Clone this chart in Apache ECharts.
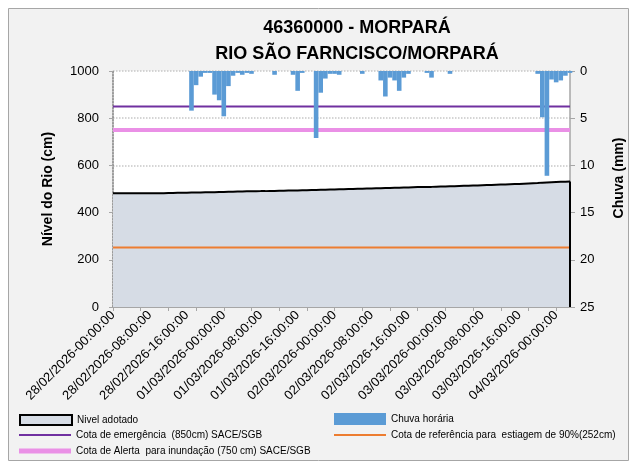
<!DOCTYPE html>
<html>
<head>
<meta charset="utf-8">
<script src="https://cdn.jsdelivr.net/npm/echarts@6/dist/echarts.min.js"></script>
<style>
  html, body { margin: 0; padding: 0; background: #fff; }
  #chart { width: 630px; height: 461px; }
</style>
</head>
<body>
<div id="chart"></div>
<script>
// dias e horas do eixo X (horário)
const days = ['28/02/2026', '01/03/2026', '02/03/2026', '03/03/2026', '04/03/2026']
const hours = ['00', '01', '02', '03', '04', '05', '06', '07', '08', '09', '10', '11',
  '12', '13', '14', '15', '16', '17', '18', '19', '20', '21', '22', '23']
const nPoints = 100

// nível adotado (cm)
const nivel = [
  482, 482, 482, 482, 482, 482, 482, 482, 482, 482, 482, 482,
  483, 483, 484, 484, 484, 485, 485, 485, 486, 486, 486, 487,
  487, 488, 488, 489, 489, 490, 490, 490, 491, 491, 492, 492,
  493, 493, 494, 494, 494, 495, 495, 496, 496, 497, 497, 498,
  498, 499, 499, 500, 500, 501, 501, 502, 502, 503, 503, 504,
  504, 505, 505, 506, 506, 507, 508, 508, 509, 509, 510, 511,
  511, 512, 512, 513, 514, 514, 515, 515, 516, 517, 517, 518,
  519, 519, 520, 521, 521, 522, 523, 524, 525, 527, 528, 529,
  530, 531, 531, 532
]

// chuva horária (mm)
const chuva = [
  0, 0, 0, 0, 0, 0, 0, 0, 0, 0,
  0, 0, 0, 0, 0, 0, 0, 4.2, 1.5, 0.6,
  0.2, 0.2, 2.5, 3.1, 4.8, 1.6, 0.5, 0.2, 0.4, 0.2,
  0.3, 0, 0, 0, 0, 0.4, 0, 0, 0, 0.4,
  2.1, 0.2, 0, 0, 7.1, 2.3, 0.8, 0.3, 0.3, 0.4,
  0, 0, 0, 0, 0.3, 0, 0, 0, 1.0, 2.7,
  0.7, 1.0, 2.1, 0.7, 0.3, 0, 0, 0, 0.2, 0.7,
  0, 0, 0, 0.3, 0, 0, 0, 0, 0, 0,
  0, 0, 0, 0, 0, 0, 0, 0, 0, 0,
  0, 0, 0.3, 4.9, 11.1, 0.9, 1.2, 1.0, 0.5, 0.2
]

// cotas de referência (cm)
const cotaEmergencia = 850
const cotaAlerta = 750
const cotaEstiagem = 252

const categories = []
days.forEach(d => hours.forEach(h => categories.push(d + '-' + h + ':00:00')))
categories.length = nPoints

const flat = v => categories.map(() => v)

const nameNivel = 'Nivel adotado'
const nameChuva = 'Chuva horária'
const nameEmerg = 'Cota de emergência  (850cm) SACE/SGB'
const nameEstiagem = 'Cota de referência para  estiagem de 90%(252cm)'
const nameAlerta = 'Cota de Alerta  para inundação (750 cm) SACE/SGB'

const font = "'Liberation Sans', Arial, sans-serif"
const legendBase = {
  orient: 'horizontal',
  selectedMode: false,
  itemWidth: 52,
  itemHeight: 10,
  itemGap: 5,
  padding: 0,
  textStyle: { fontFamily: font, fontSize: 10, color: '#000' }
}

const chart = echarts.init(document.getElementById('chart'))
chart.setOption({
  animation: false,
  backgroundColor: '#fff',
  graphic: [{
    type: 'rect',
    z: -10,
    shape: { x: 8.5, y: 8.5, width: 620, height: 452 },
    style: { fill: '#f2f2f2', stroke: '#a6a6a6', lineWidth: 1 }
  }],
  title: {
    text: '46360000 - MORPARÁ\nRIO SÃO FARNCISCO/MORPARÁ',
    left: 352,
    top: 10,
    textAlign: 'center',
    textStyle: {
      fontFamily: font,
      fontSize: 18,
      fontWeight: 'bold',
      color: '#000',
      lineHeight: 26
    }
  },
  grid: {
    left: 113,
    right: 60,
    top: 71,
    bottom: 154,
    outerBoundsMode: 'none',
    show: true,
    backgroundColor: '#fff',
    borderWidth: 0
  },
  legend: [
    Object.assign({}, legendBase, {
      left: 19, top: 414,
      data: [{ name: nameNivel, icon: 'rect', itemStyle: { color: '#d6dce5', borderColor: '#000', borderWidth: 2 } }]
    }),
    Object.assign({}, legendBase, {
      left: 334, top: 413, itemHeight: 12,
      data: [{ name: nameChuva, icon: 'rect' }]
    }),
    Object.assign({}, legendBase, {
      left: 19, top: 430, itemHeight: 2,
      data: [{ name: nameEmerg, icon: 'rect' }]
    }),
    Object.assign({}, legendBase, {
      left: 334, top: 430, itemHeight: 2,
      data: [{ name: nameEstiagem, icon: 'rect' }]
    }),
    Object.assign({}, legendBase, {
      left: 19, top: 446, itemHeight: 5,
      data: [{ name: nameAlerta, icon: 'rect' }]
    })
  ],
  xAxis: {
    type: 'category',
    data: categories,
    boundaryGap: false,
    axisLine: { lineStyle: { color: '#a6a6a6', width: 1 } },
    axisTick: { show: true, interval: 5, length: 4, lineStyle: { color: '#a6a6a6' } },
    axisLabel: {
      interval: 7,
      rotate: 45,
      fontFamily: font,
      fontSize: 13,
      color: '#000',
      margin: 6
    },
    splitLine: { show: false }
  },
  yAxis: [
    {
      type: 'value',
      min: 0,
      max: 1000,
      interval: 200,
      name: 'Nível do Rio (cm)',
      nameLocation: 'middle',
      nameGap: 58,
      nameTextStyle: { fontFamily: font, fontSize: 14, fontWeight: 'bold', color: '#000' },
      axisLine: { show: true, lineStyle: { color: '#7f7f7f', type: 'dotted', width: 1.5 } },
      axisTick: { show: true, length: 4, lineStyle: { color: '#a6a6a6' } },
      axisLabel: { fontFamily: font, fontSize: 13, color: '#000', margin: 14, formatter: v => String(v) },
      splitLine: { show: true, lineStyle: { color: '#c8c8c8', type: 'dotted', width: 1.5 } }
    },
    {
      type: 'value',
      min: 0,
      max: 25,
      interval: 5,
      inverse: true,
      position: 'right',
      name: 'Chuva (mm)',
      nameLocation: 'middle',
      nameGap: 42,
      nameRotate: 90,
      nameTextStyle: { fontFamily: font, fontSize: 14, fontWeight: 'bold', color: '#000', padding: [0, 0, 0, 22] },
      axisLine: { show: true, lineStyle: { color: '#a6a6a6', width: 1.5 } },
      axisTick: { show: true, length: 5, lineStyle: { color: '#a6a6a6' } },
      axisLabel: { fontFamily: font, fontSize: 13, color: '#000', margin: 10 },
      splitLine: { show: false }
    }
  ],
  series: [
    {
      name: nameNivel,
      type: 'line',
      data: nivel,
      yAxisIndex: 0,
      symbol: 'none',
      z: 1,
      lineStyle: { color: '#000', width: 2 },
      itemStyle: { color: '#d6dce5', borderColor: '#000' },
      areaStyle: { color: '#d6dce5', opacity: 1 },
      markLine: {
        silent: true,
        symbol: 'none',
        label: { show: false },
        lineStyle: { color: '#000', width: 2, type: 'solid' },
        data: [[
          { coord: [categories[nPoints - 1], 0] },
          { coord: [categories[nPoints - 1], nivel[nPoints - 1]] }
        ]]
      }
    },
    {
      name: nameEmerg,
      type: 'line',
      data: flat(cotaEmergencia),
      yAxisIndex: 0,
      symbol: 'none',
      z: 3,
      lineStyle: { color: '#7030a0', width: 2 },
      itemStyle: { color: '#7030a0' }
    },
    {
      name: nameAlerta,
      type: 'line',
      data: flat(cotaAlerta),
      yAxisIndex: 0,
      symbol: 'none',
      z: 3,
      lineStyle: { color: '#ea90e6', width: 4 },
      itemStyle: { color: '#ea90e6' }
    },
    {
      name: nameEstiagem,
      type: 'line',
      data: flat(cotaEstiagem),
      yAxisIndex: 0,
      symbol: 'none',
      z: 3,
      lineStyle: { color: '#ed7d31', width: 2 },
      itemStyle: { color: '#ed7d31' }
    },
    {
      name: nameChuva,
      type: 'bar',
      data: chuva,
      yAxisIndex: 1,
      barWidth: 4.6,
      z: 4,
      itemStyle: { color: '#5b9bd5' }
    }
  ]
})
</script>
</body>
</html>
